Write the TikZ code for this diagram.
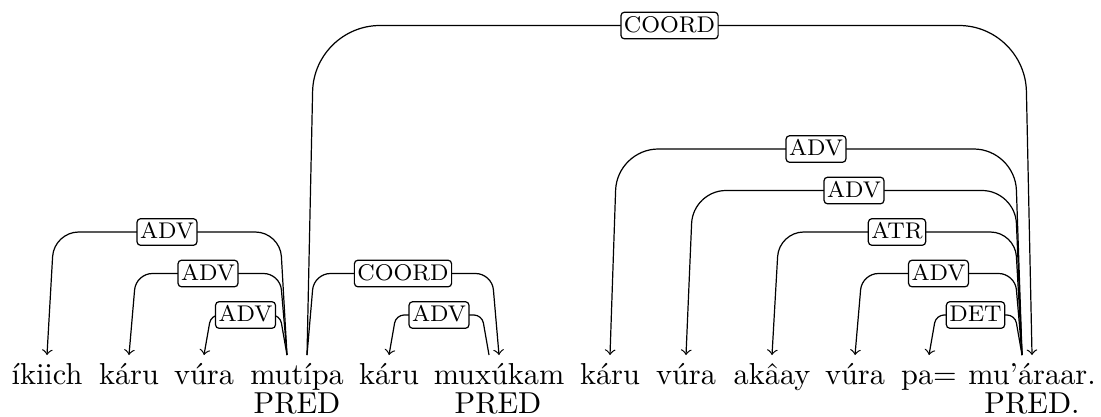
\documentclass[tikz,border=0pt]{standalone}
\usetikzlibrary{calc}

% one dependency arc: head node, horizontal offset at the head, dependent node,
% arc height, direction (+1 to the right, -1 to the left), relation label
\newcommand\deparc[6]{%
  \pgfmathsetmacro\arcrad{0.066*#4}%
  \draw[arcline, rounded corners=\arcrad pt]
    ($(#1.base)+(#2,-29)$) -- ++(#5*7,-#4)
    -- node[arclabel]{#6} ($(#3.base)+(#5*-7,-29-#4)$)
    -- ($(#3.base)+(0,-29)$);%
}

\begin{document}
\begin{tikzpicture}[x=0.33pt, y=-0.33pt,
  word/.style={anchor=base, inner sep=0pt},
  arcline/.style={->, line width=0.4pt},
  arclabel/.style={draw, fill=white, rounded corners=1.2pt, line width=0.4pt,
    inner xsep=1pt, inner ysep=1pt, text height=5.6pt, text depth=1.2pt,
    font=\fontsize{7.5}{9}\selectfont}]
  \useasboundingbox (0,0) rectangle (1101,416);

  % sentence
  \node[word] (w1)  at (47,384)   {íkiich};
  \node[word] (w2)  at (129,384)  {káru};
  \node[word] (w3)  at (204,384)  {vúra};
  \node[word] (w4)  at (297,384)  {mutípa};
  \node[word] (w5)  at (389,384)  {káru};
  \node[word] (w6)  at (499,384)  {muxúkam};
  \node[word] (w7)  at (610,384)  {káru};
  \node[word] (w8)  at (686,384)  {vúra};
  \node[word] (w9)  at (772,384)  {akâay};
  \node[word] (w10) at (855,384)  {vúra};
  \node[word] (w11) at (929,384)  {pa=};
  \node[word] (w12) at (1032,384) {mu'áraar.};

  % second row
  \node[word] (p4)  at (297,413.5)  {PRED};
  \node[word] (p6)  at (498,413.5)  {PRED};
  \node[word] (p12) at (1032,413.5) {PRED.};

  % dependencies
  \deparc{w4}{-10}{w1}{123}{-1}{ADV}
  \deparc{w4}{-10}{w2}{81.5}{-1}{ADV}
  \deparc{w4}{-10}{w3}{40}{-1}{ADV}
  \deparc{w4}{10}{w12}{329.5}{1}{COORD}
  \deparc{w4}{10}{w6}{81.5}{1}{COORD}
  \deparc{w6}{-10}{w5}{40}{-1}{ADV}
  \deparc{w12}{-10}{w7}{206}{-1}{ADV}
  \deparc{w12}{-10}{w8}{164.5}{-1}{ADV}
  \deparc{w12}{-10}{w9}{123}{-1}{ATR}
  \deparc{w12}{-10}{w10}{81.5}{-1}{ADV}
  \deparc{w12}{-10}{w11}{40}{-1}{DET}
\end{tikzpicture}
\end{document}
